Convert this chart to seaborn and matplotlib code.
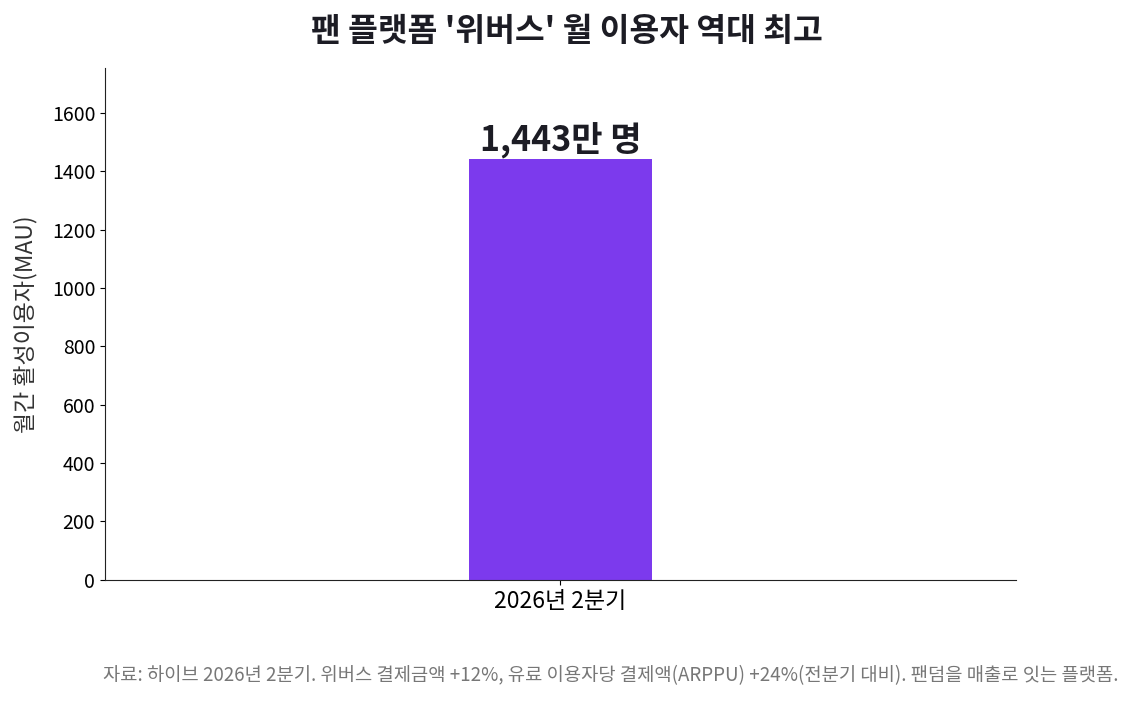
import matplotlib
matplotlib.use("Agg")
import matplotlib.pyplot as plt
import seaborn as sns
import pandas as pd

categories = ["2026년 2분기"]
mau = [1443]
labels = ["1,443만 명"]

sns.set_style("ticks")
plt.rcParams['font.family'] = ['Noto Sans CJK KR', 'DejaVu Sans']

df = pd.DataFrame({"quarter": categories, "mau": mau})

fig, ax = plt.subplots(figsize=(11.33, 7.02), dpi=100)
fig.subplots_adjust(left=0.0927, right=0.8967, top=0.903, bottom=0.174)

sns.barplot(data=df, x="quarter", y="mau", color="#7c3aed", width=0.2,
            saturation=1, linewidth=0, ax=ax)
ax.set_xlim(-0.5, 0.5)
ax.set_ylim(0, max(mau) * 1.215)
ax.set_yticks(range(0, 1601, 200))

for i, (v, lab) in enumerate(zip(mau, labels)):
    ax.text(i, v, lab, ha="center", va="bottom", fontsize=24.5,
            fontweight="bold", color="#1c1c24")

ax.set_xlabel("")
ax.set_ylabel("월간 활성이용자(MAU)", fontsize=16.5, color="#333333", labelpad=10)
ax.tick_params(axis="y", labelsize=14, colors="black")
ax.tick_params(axis="x", labelsize=16.5, colors="black")
for s in ["left", "bottom"]:
    ax.spines[s].set_color("#222222")
sns.despine(ax=ax)

fig.suptitle("팬 플랫폼 '위버스' 월 이용자 역대 최고", fontsize=23.3,
             fontweight="bold", color="#1c1c24", y=0.955, va="center")
fig.text(0.987, 0.022,
         "자료: 하이브 2026년 2분기. 위버스 결제금액 +12%, 유료 이용자당 결제액(ARPPU) +24%(전분기 대비). 팬덤을 매출로 잇는 플랫폼.",
         ha="right", va="bottom", fontsize=13.5, color="#777777")

fig.savefig("out.png", dpi=100)
